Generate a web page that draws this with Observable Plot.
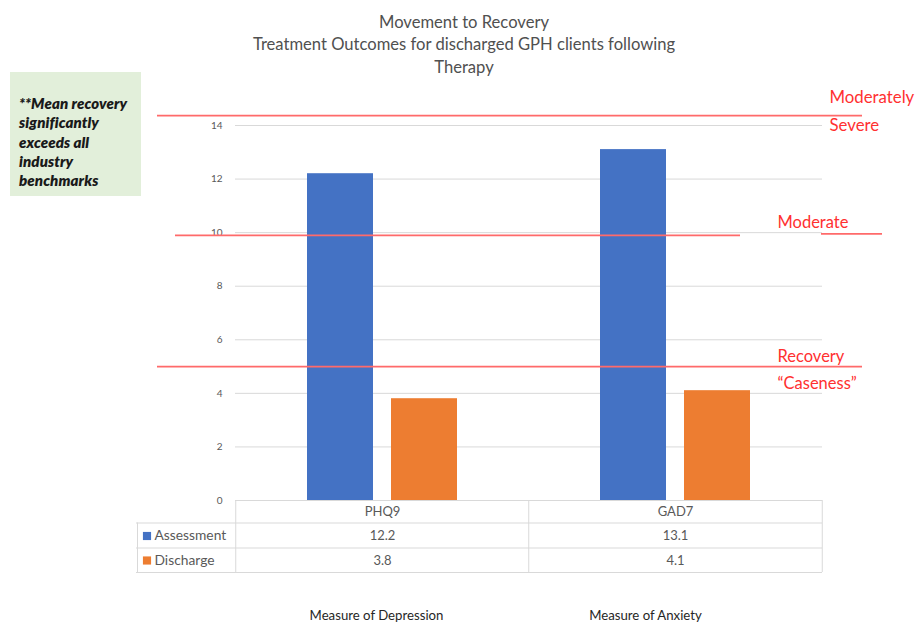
<!DOCTYPE html>
<html><head><meta charset="utf-8">
<script src="https://cdn.jsdelivr.net/npm/d3@7"></script>
<script src="https://cdn.jsdelivr.net/npm/@observablehq/plot@0.6"></script>
<style>
body{margin:0;background:#fff;}
#wrap{position:relative;width:917px;height:624px;}
#note{position:absolute;left:10px;top:72px;width:131px;height:124px;background:#e2efda;font:italic 800 15px Lato, sans-serif;color:#1a1a1a;box-sizing:border-box;padding:22px 0 0 9px;line-height:19.3px;letter-spacing:0.1px;white-space:nowrap;}
</style></head><body><div id="wrap"><div id="note"></div></div>
<script>
const categories = ["PHQ9", "GAD7"];
const seriesNames = ["Assessment", "Discharge"];
const assessment = [12.2, 13.1];
const discharge = [3.8, 4.1];
const yTicks = [0, 2, 4, 6, 8, 10, 12, 14];
const titleLines = ["Movement to Recovery", "Treatment Outcomes for discharged GPH clients following", "Therapy"];
const measureLabels = ["Measure of Depression", "Measure of Anxiety"];
const thresholdLabels = [["Moderately", "Severe"], ["Moderate"], ["Recovery", "\u201cCaseness\u201d"]];
const thresholdValues = [14.37, 9.9, 5.0];
const noteLines = ["**Mean recovery", "significantly", "exceeds all", "industry", "benchmarks"];

document.getElementById("note").innerHTML = noteLines.join("<br>");

const aData = categories.map((c, i) => ({cat: c, value: assessment[i]}));
const dData = categories.map((c, i) => ({cat: c, value: discharge[i]}));
const font = "Lato, sans-serif";
const gray = "#595959";
const grid = "#d9d9d9";
const red = "#ff3030";
const redLine = "#ff6a6a";

const chart = Plot.plot({
  width: 917,
  height: 624,
  marginLeft: 235,
  marginRight: 95,
  marginTop: 125,
  marginBottom: 124,
  style: {fontFamily: font, fontSize: "10px", color: gray, background: "transparent"},
  x: {type: "band", domain: categories, paddingInner: 0.775, paddingOuter: 0.3875, axis: null},
  y: {domain: [0, 14], ticks: 7, tickSize: 0, tickPadding: 13, label: null},
  marks: [
    Plot.ruleY(yTicks, {stroke: grid, strokeWidth: 1}),
    Plot.barY(aData, {x: "cat", y: "value", fill: "#4472c4", dx: -42}),
    Plot.barY(dData, {x: "cat", y: "value", fill: "#ed7d31", dx: 42}),
    // table
    Plot.ruleY([0], {dy: 22.5, insetLeft: -99, stroke: grid}),
    Plot.ruleY([0], {dy: 47.5, insetLeft: -99, stroke: grid}),
    Plot.ruleY([0], {dy: 72, insetLeft: -99, stroke: grid}),
    Plot.ruleX(categories, {y1: 0, y2: 0, insetBottom: -72, dx: -146.75, stroke: grid}),
    Plot.ruleX([categories[1]], {y1: 0, y2: 0, insetBottom: -72, dx: 146.75, stroke: grid}),
    Plot.ruleX([categories[0]], {y1: 0, y2: 0, insetTop: 22.5, insetBottom: -72, dx: -245, stroke: grid}),
    Plot.text(categories, {x: d => d, y: 0, dy: 11.5, fill: gray, fontSize: 13}),
    Plot.text(aData, {x: "cat", y: 0, dy: 35.5, text: d => d.value.toFixed(1), fill: gray, fontSize: 13}),
    Plot.text(dData, {x: "cat", y: 0, dy: 60, text: d => d.value.toFixed(1), fill: gray, fontSize: 13}),
    Plot.text([seriesNames[0]], {frameAnchor: "left", y: 0, dy: 35.5, dx: -81, textAnchor: "start", fill: gray, fontSize: 13.8}),
    Plot.text([seriesNames[1]], {frameAnchor: "left", y: 0, dy: 60, dx: -81, textAnchor: "start", fill: gray, fontSize: 13.8}),
    Plot.dot([seriesNames[0]], {frameAnchor: "left", y: 0, dy: 35.5, dx: -88.5, symbol: "square", r: 4.6, fill: "#4472c4"}),
    Plot.dot([seriesNames[1]], {frameAnchor: "left", y: 0, dy: 60, dx: -88.5, symbol: "square", r: 4.6, fill: "#ed7d31"}),
    // bottom labels
    Plot.text([measureLabels[0]], {x: () => categories[0], y: 0, dy: 115, dx: -6, fill: "#262626", fontSize: 13.2}),
    Plot.text([measureLabels[1]], {x: () => categories[1], y: 0, dy: 115, dx: -30, fill: "#262626", fontSize: 13.2}),
    // threshold lines
    Plot.ruleY([thresholdValues[0]], {insetLeft: -78, insetRight: -40, stroke: redLine, strokeWidth: 1.8}),
    Plot.ruleY([thresholdValues[1]], {insetLeft: -60, insetRight: 82, stroke: redLine, strokeWidth: 1.8}),
    Plot.ruleY([thresholdValues[1]], {insetLeft: 586, insetRight: -60, dy: -1.5, stroke: redLine, strokeWidth: 1.8}),
    Plot.ruleY([thresholdValues[2]], {insetLeft: -78, insetRight: -40, stroke: redLine, strokeWidth: 1.8}),
    Plot.text([thresholdLabels[0][0]], {frameAnchor: "right", y: thresholdValues[0], dx: 7, dy: -18, textAnchor: "start", fill: red, fontSize: 16.8}),
    Plot.text([thresholdLabels[0][1]], {frameAnchor: "right", y: thresholdValues[0], dx: 7, dy: 10, textAnchor: "start", fill: red, fontSize: 16.8}),
    Plot.text([thresholdLabels[1][0]], {frameAnchor: "right", y: thresholdValues[1], dx: -45, dy: -13, textAnchor: "start", fill: red, fontSize: 16.5}),
    Plot.text([thresholdLabels[2][0]], {frameAnchor: "right", y: thresholdValues[2], dx: -45, dy: -10, textAnchor: "start", fill: red, fontSize: 16.5}),
    Plot.text([thresholdLabels[2][1]], {frameAnchor: "right", y: thresholdValues[2], dx: -45, dy: 17, textAnchor: "start", fill: red, fontSize: 16.5}),
    // title
    Plot.text([titleLines.join("\n")], {frameAnchor: "top", dx: -65, dy: -114, lineHeight: 1.36, lineAnchor: "top", fill: "#505050", fontSize: 16.6})
  ]
});
document.getElementById("wrap").appendChild(chart);
chart.style.position = "absolute";
chart.style.left = "0";
chart.style.top = "0";
document.getElementById("note").style.zIndex = "2";
</script>
</body></html>
